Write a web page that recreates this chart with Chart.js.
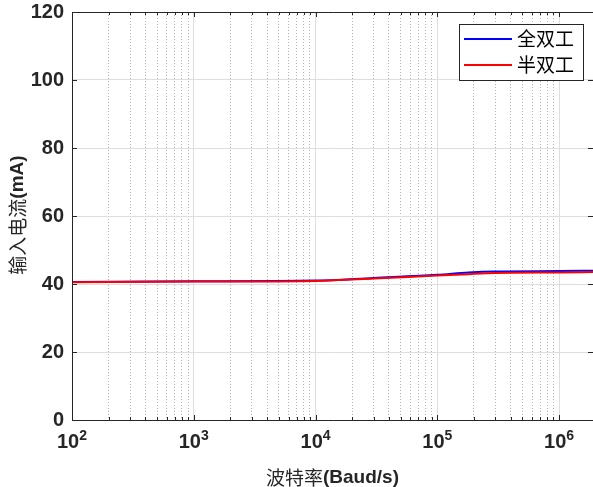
<!DOCTYPE html>
<html>
<head>
<meta charset="utf-8">
<script src="https://cdn.jsdelivr.net/npm/chart.js@4/dist/chart.umd.min.js"></script>
<style>
  html, body { margin: 0; padding: 0; background: #fff; }
  canvas { display: block; }
</style>
</head>
<body>
<canvas id="chart" width="593" height="487"></canvas>
<script>
// 波特率 (x), 输入电流 (y)
const baudRates = [100, 1000, 10000, 30000, 100000, 180000, 300000, 1000000, 1900000];
const fullDuplex = [40.6, 40.8, 41.0, 41.8, 42.7, 43.4, 43.7, 43.8, 43.9];
const halfDuplex = [40.5, 40.7, 40.9, 41.6, 42.5, 42.9, 43.2, 43.4, 43.5];
const seriesNames = ['全双工', '半双工'];
const seriesColors = ['#0000ff', '#ff0000'];
const xExponents = [2, 3, 4, 5, 6];
const yTicks = [0, 20, 40, 60, 80, 100, 120];

const TXT = '#262626';
const NUM_FONT = '"Liberation Sans", Arial, sans-serif';
const CJK_FONT = '"Noto Sans CJK SC", sans-serif';
const X_MAX = 1900000;

function isDecade(v) {
  const l = Math.log10(v);
  return Math.abs(l - Math.round(l)) < 1e-9;
}

// minor + major tick values for the log axis
const xTickValues = [];
xExponents.forEach(e => {
  for (let m = 1; m <= 9; m++) {
    const v = m * Math.pow(10, e);
    if (v <= X_MAX) xTickValues.push(v);
  }
});

// mixed font text (chinese + bold latin)
function drawMixed(ctx, parts, x, y) {
  let total = 0;
  parts.forEach(p => { ctx.font = p.font; p.w = ctx.measureText(p.text).width; total += p.w; });
  let cx = x - total / 2;
  parts.forEach(p => {
    ctx.font = p.font;
    ctx.fillText(p.text, cx, y);
    cx += p.w;
  });
}

const decorations = {
  id: 'decorations',
  afterDraw(chart) {
    const {ctx, chartArea: a, scales: {x, y}} = chart;
    ctx.save();
    ctx.strokeStyle = TXT;
    ctx.lineWidth = 1;
    ctx.beginPath();
    // inward ticks
    x.ticks.forEach(t => {
      const px = Math.round(x.getPixelForValue(t.value)) + 0.5;
      const len = isDecade(t.value) ? 5 : 3;
      ctx.moveTo(px, a.bottom); ctx.lineTo(px, a.bottom - len);
      ctx.moveTo(px, a.top); ctx.lineTo(px, a.top + len);
    });
    y.ticks.forEach(t => {
      const py = Math.round(y.getPixelForValue(t.value)) + 0.5;
      ctx.moveTo(a.left, py); ctx.lineTo(a.left + 5, py);
      ctx.moveTo(a.right, py); ctx.lineTo(a.right - 5, py);
    });
    // frame (right side falls off the canvas)
    ctx.moveTo(a.left + 0.5, a.top + 0.5); ctx.lineTo(a.right + 2, a.top + 0.5);
    ctx.moveTo(a.left + 0.5, a.top + 0.5); ctx.lineTo(a.left + 0.5, a.bottom + 0.5);
    ctx.moveTo(a.left + 0.5, a.bottom + 0.5); ctx.lineTo(a.right + 2, a.bottom + 0.5);
    ctx.stroke();

    // x tick labels 10^n
    ctx.fillStyle = TXT;
    ctx.textBaseline = 'alphabetic';
    xExponents.forEach(e => {
      const px = x.getPixelForValue(Math.pow(10, e));
      ctx.font = 'bold 20px ' + NUM_FONT;
      const w1 = ctx.measureText('10').width;
      ctx.font = 'bold 14px ' + NUM_FONT;
      const w2 = ctx.measureText(String(e)).width;
      const left = px - (w1 + w2) / 2;
      ctx.font = 'bold 20px ' + NUM_FONT;
      ctx.fillText('10', left, 448);
      ctx.font = 'bold 14px ' + NUM_FONT;
      ctx.fillText(String(e), left + w1, 440);
    });

    // axis titles
    ctx.textBaseline = 'middle';
    drawMixed(ctx, [
      {text: '波特率', font: '19px ' + CJK_FONT},
      {text: '(Baud/s)', font: 'bold 19px ' + NUM_FONT}
    ], (a.left + 593) / 2, 478);

    ctx.save();
    ctx.translate(18, (a.top + a.bottom) / 2 - 1);
    ctx.rotate(-Math.PI / 2);
    drawMixed(ctx, [
      {text: '输入电流', font: '19px ' + CJK_FONT},
      {text: '(mA)', font: 'bold 19px ' + NUM_FONT}
    ], 0, 0);
    ctx.restore();

    // legend box
    const bx = 459.5, by = 24.5, bw = 124, bh = 56;
    ctx.fillStyle = '#fff';
    ctx.fillRect(bx, by, bw, bh);
    ctx.strokeStyle = TXT;
    ctx.strokeRect(bx, by, bw, bh);
    chart.data.datasets.forEach((ds, i) => {
      const ly = 39 + i * 26;
      ctx.strokeStyle = ds.borderColor;
      ctx.lineWidth = 2;
      ctx.beginPath();
      ctx.moveTo(464, ly); ctx.lineTo(512, ly);
      ctx.stroke();
      ctx.fillStyle = '#000';
      ctx.font = '19px ' + CJK_FONT;
      ctx.textAlign = 'left';
      ctx.fillText(ds.label, 517, ly);
    });
    ctx.restore();
  }
};

new Chart(document.getElementById('chart'), {
  type: 'line',
  data: {
    datasets: [
      {
        label: seriesNames[0],
        data: baudRates.map((b, i) => ({x: b, y: fullDuplex[i]})),
        borderColor: seriesColors[0],
        borderWidth: 2,
        pointRadius: 0,
        cubicInterpolationMode: 'monotone',
        order: 2
      },
      {
        label: seriesNames[1],
        data: baudRates.map((b, i) => ({x: b, y: halfDuplex[i]})),
        borderColor: seriesColors[1],
        borderWidth: 2,
        pointRadius: 0,
        cubicInterpolationMode: 'monotone',
        order: 1
      }
    ]
  },
  options: {
    responsive: false,
    animation: false,
    layout: { padding: { top: 12, right: 0, left: 0, bottom: 0 } },
    plugins: {
      legend: { display: false },
      tooltip: { enabled: false }
    },
    scales: {
      x: {
        type: 'logarithmic',
        min: 100,
        max: X_MAX,
        afterBuildTicks: scale => { scale.ticks = xTickValues.map(v => ({value: v})); },
        afterFit: scale => {
          scale.height = 67;
          scale.paddingLeft = 0;
          scale.paddingRight = 0;
        },
        ticks: { display: false },
        border: {
          display: false,
          dash: c => (c.tick && !isDecade(c.tick.value)) ? [1, 2] : []
        },
        grid: {
          drawTicks: false,
          color: c => (c.tick && isDecade(c.tick.value)) ? '#dedede' : '#b4b4b4',
          lineWidth: 1
        }
      },
      y: {
        min: 0,
        max: 120,
        afterBuildTicks: scale => { scale.ticks = yTicks.map(v => ({value: v})); },
        afterFit: scale => {
          scale.width = 72;
          scale.paddingTop = 0;
          scale.paddingBottom = 0;
        },
        ticks: {
          color: TXT,
          padding: 8,
          font: { family: NUM_FONT, size: 20, weight: 'bold' }
        },
        border: { display: false },
        grid: { drawTicks: false, color: '#dedede', lineWidth: 1 }
      }
    }
  },
  plugins: [decorations]
});
</script>
</body>
</html>
